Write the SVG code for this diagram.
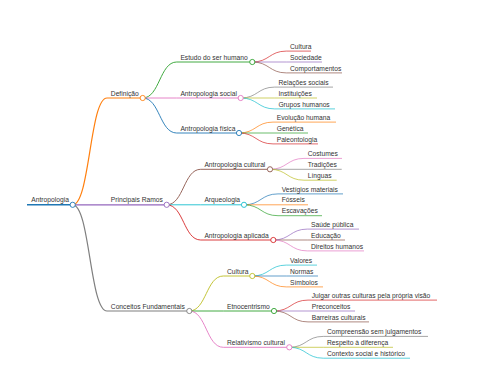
<svg xmlns="http://www.w3.org/2000/svg" width="480" height="384" viewBox="0 0 480 384">
<style>
text{font-family:"Liberation Sans",Arial,sans-serif;font-size:6.7px;fill:#333}
.l{fill:none}
.k0{stroke:#1f77b4}.k1{stroke:#ff7f0e}.k2{stroke:#2ca02c}.k3{stroke:#d62728}.k4{stroke:#9467bd}
.k5{stroke:#8c564b}.k6{stroke:#e377c2}.k7{stroke:#7f7f7f}.k8{stroke:#bcbd22}.k9{stroke:#17becf}
.d0{stroke-width:1.6}.d1{stroke-width:1.2}.d2{stroke-width:0.9}.d3{stroke-width:0.7}
circle{fill:#fff;stroke-width:0.9}
</style>
<rect width="480" height="384" fill="#fff"/>
<g id="connectors" class="l">
<path class="k1 d1" d="M72.7 204.8C89.85 204.8 89.85 98 107 98"/>
<path class="k4 d1" d="M72.7 204.8L107 204.8"/>
<path class="k7 d1" d="M72.7 204.8C89.85 204.8 89.85 311 107 311"/>
<path class="k2 d2" d="M142.7 98C159.7 98 159.7 62 176.7 62"/>
<path class="k6 d2" d="M142.7 98L176.7 98"/>
<path class="k0 d2" d="M142.7 98C159.7 98 159.7 133 176.7 133"/>
<path class="k5 d2" d="M166.7 204.8C183.7 204.8 183.7 169.3 200.7 169.3"/>
<path class="k9 d2" d="M166.7 204.8L200.7 204.8"/>
<path class="k3 d2" d="M166.7 204.8C183.7 204.8 183.7 240 200.7 240"/>
<path class="k8 d2" d="M189.3 311C206.3 311 206.3 276 223.3 276"/>
<path class="k2 d2" d="M189.3 311L223.3 311"/>
<path class="k6 d2" d="M189.3 311C206.3 311 206.3 347.3 223.3 347.3"/>
<path class="k3 d3" d="M252.3 62C269.3 62 269.3 51.1 286.3 51.1"/>
<path class="k4 d3" d="M252.3 62L286.3 62"/>
<path class="k5 d3" d="M252.3 62C269.3 62 269.3 72.9 286.3 72.9"/>
<path class="k7 d3" d="M240.7 98C257.7 98 257.7 87.1 274.7 87.1"/>
<path class="k8 d3" d="M240.7 98L274.7 98"/>
<path class="k9 d3" d="M240.7 98C257.7 98 257.7 108.9 274.7 108.9"/>
<path class="k1 d3" d="M239 133C256 133 256 122.1 273 122.1"/>
<path class="k2 d3" d="M239 133L273 133"/>
<path class="k3 d3" d="M239 133C256 133 256 143.9 273 143.9"/>
<path class="k6 d3" d="M270 169.3C287 169.3 287 158.4 304 158.4"/>
<path class="k7 d3" d="M270 169.3L304 169.3"/>
<path class="k8 d3" d="M270 169.3C287 169.3 287 180.2 304 180.2"/>
<path class="k0 d3" d="M244 204.8C261 204.8 261 193.9 278 193.9"/>
<path class="k1 d3" d="M244 204.8L278 204.8"/>
<path class="k2 d3" d="M244 204.8C261 204.8 261 215.7 278 215.7"/>
<path class="k4 d3" d="M273.3 240C290.3 240 290.3 229.1 307.3 229.1"/>
<path class="k5 d3" d="M273.3 240L307.3 240"/>
<path class="k6 d3" d="M273.3 240C290.3 240 290.3 250.9 307.3 250.9"/>
<path class="k9 d3" d="M252.3 276C269.3 276 269.3 265.1 286.3 265.1"/>
<path class="k0 d3" d="M252.3 276L286.3 276"/>
<path class="k1 d3" d="M252.3 276C269.3 276 269.3 286.9 286.3 286.9"/>
<path class="k3 d3" d="M274 311C291 311 291 300.1 308 300.1"/>
<path class="k4 d3" d="M274 311L308 311"/>
<path class="k5 d3" d="M274 311C291 311 291 321.9 308 321.9"/>
<path class="k7 d3" d="M289.3 347.3C306.3 347.3 306.3 336.4 323.3 336.4"/>
<path class="k8 d3" d="M289.3 347.3L323.3 347.3"/>
<path class="k9 d3" d="M289.3 347.3C306.3 347.3 306.3 358.2 323.3 358.2"/>
</g>
<g id="n-antropologia"><line class="k0 d0" x1="27" y1="204.8" x2="72.7" y2="204.8"/><circle class="k0" cx="72.7" cy="204.8" r="2.6"/><text x="31.3" y="202.3">Antropologia</text></g>
<g id="n-definicao"><line class="k1 d1" x1="107" y1="98" x2="142.7" y2="98"/><circle class="k1" cx="142.7" cy="98" r="2.6"/><text x="110.8" y="95.6">Definição</text></g>
<g id="n-principais"><line class="k4 d1" x1="107" y1="204.8" x2="166.7" y2="204.8"/><circle class="k4" cx="166.7" cy="204.8" r="2.6"/><text x="110.8" y="202.3">Principais Ramos</text></g>
<g id="n-conceitos"><line class="k7 d1" x1="107" y1="311" x2="189.3" y2="311"/><circle class="k7" cx="189.3" cy="311" r="2.6"/><text x="110.8" y="308.5">Conceitos Fundamentais</text></g>
<g id="n-estudo"><line class="k2 d2" x1="176.7" y1="62" x2="252.3" y2="62"/><circle class="k2" cx="252.3" cy="62" r="2.6"/><text x="180.4" y="59.6">Estudo do ser humano</text></g>
<g id="n-social"><line class="k6 d2" x1="176.7" y1="98" x2="240.7" y2="98"/><circle class="k6" cx="240.7" cy="98" r="2.6"/><text x="180.4" y="95.6">Antropologia social</text></g>
<g id="n-fisica"><line class="k0 d2" x1="176.7" y1="133" x2="239" y2="133"/><circle class="k0" cx="239" cy="133" r="2.6"/><text x="180.4" y="130.6">Antropologia física</text></g>
<g id="n-cultural"><line class="k5 d2" x1="200.7" y1="169.3" x2="270" y2="169.3"/><circle class="k5" cx="270" cy="169.3" r="2.6"/><text x="204.4" y="166.9">Antropologia cultural</text></g>
<g id="n-arqueologia"><line class="k9 d2" x1="200.7" y1="204.8" x2="244" y2="204.8"/><circle class="k9" cx="244" cy="204.8" r="2.6"/><text x="204.4" y="202.3">Arqueologia</text></g>
<g id="n-aplicada"><line class="k3 d2" x1="200.7" y1="240" x2="273.3" y2="240"/><circle class="k3" cx="273.3" cy="240" r="2.6"/><text x="204.4" y="237.6">Antropologia aplicada</text></g>
<g id="n-cultura2"><line class="k8 d2" x1="223.3" y1="276" x2="252.3" y2="276"/><circle class="k8" cx="252.3" cy="276" r="2.6"/><text x="227" y="273.6">Cultura</text></g>
<g id="n-etno"><line class="k2 d2" x1="223.3" y1="311" x2="274" y2="311"/><circle class="k2" cx="274" cy="311" r="2.6"/><text x="227" y="308.5">Etnocentrismo</text></g>
<g id="n-relativismo"><line class="k6 d2" x1="223.3" y1="347.3" x2="289.3" y2="347.3"/><circle class="k6" cx="289.3" cy="347.3" r="2.6"/><text x="227" y="344.9">Relativismo cultural</text></g>
<g id="n-cultura"><line class="k3 d3" x1="286.3" y1="51.1" x2="311" y2="51.1"/><text x="290" y="48.7">Cultura</text></g>
<g id="n-sociedade"><line class="k4 d3" x1="286.3" y1="62" x2="322" y2="62"/><text x="290" y="59.6">Sociedade</text></g>
<g id="n-comportamentos"><line class="k5 d3" x1="286.3" y1="72.9" x2="342" y2="72.9"/><text x="290" y="70.5">Comportamentos</text></g>
<g id="n-relacoes"><line class="k7 d3" x1="274.7" y1="87.1" x2="333" y2="87.1"/><text x="278.4" y="84.7">Relações sociais</text></g>
<g id="n-instituicoes"><line class="k8 d3" x1="274.7" y1="98" x2="317" y2="98"/><text x="278.4" y="95.6">Instituições</text></g>
<g id="n-grupos"><line class="k9 d3" x1="274.7" y1="108.9" x2="335" y2="108.9"/><text x="278.4" y="106.5">Grupos humanos</text></g>
<g id="n-evolucao"><line class="k1 d3" x1="273" y1="122.1" x2="336" y2="122.1"/><text x="276.7" y="119.7">Evolução humana</text></g>
<g id="n-genetica"><line class="k2 d3" x1="273" y1="133" x2="308" y2="133"/><text x="276.7" y="130.6">Genética</text></g>
<g id="n-paleontologia"><line class="k3 d3" x1="273" y1="143.9" x2="318" y2="143.9"/><text x="276.7" y="141.5">Paleontologia</text></g>
<g id="n-costumes"><line class="k6 d3" x1="304" y1="158.4" x2="342" y2="158.4"/><text x="307.7" y="156">Costumes</text></g>
<g id="n-tradicoes"><line class="k7 d3" x1="304" y1="169.3" x2="341.7" y2="169.3"/><text x="307.7" y="166.9">Tradições</text></g>
<g id="n-linguas"><line class="k8 d3" x1="304" y1="180.2" x2="336.7" y2="180.2"/><text x="307.7" y="177.8">Línguas</text></g>
<g id="n-vestigios"><line class="k0 d3" x1="278" y1="193.9" x2="343" y2="193.9"/><text x="281.7" y="191.5">Vestígios materiais</text></g>
<g id="n-fosseis"><line class="k1 d3" x1="278" y1="204.8" x2="308" y2="204.8"/><text x="281.7" y="202.3">Fósseis</text></g>
<g id="n-escavacoes"><line class="k2 d3" x1="278" y1="215.7" x2="322" y2="215.7"/><text x="281.7" y="213.3">Escavações</text></g>
<g id="n-saude"><line class="k4 d3" x1="307.3" y1="229.1" x2="359" y2="229.1"/><text x="311" y="226.7">Saúde pública</text></g>
<g id="n-educacao"><line class="k5 d3" x1="307.3" y1="240" x2="345" y2="240"/><text x="311" y="237.6">Educação</text></g>
<g id="n-direitos"><line class="k6 d3" x1="307.3" y1="250.9" x2="364" y2="250.9"/><text x="311" y="248.5">Direitos humanos</text></g>
<g id="n-valores"><line class="k9 d3" x1="286.3" y1="265.1" x2="317" y2="265.1"/><text x="290" y="262.7">Valores</text></g>
<g id="n-normas"><line class="k0 d3" x1="286.3" y1="276" x2="318" y2="276"/><text x="290" y="273.6">Normas</text></g>
<g id="n-simbolos"><line class="k1 d3" x1="286.3" y1="286.9" x2="323" y2="286.9"/><text x="290" y="284.5">Símbolos</text></g>
<g id="n-julgar"><line class="k3 d3" x1="308" y1="300.1" x2="437" y2="300.1"/><text x="311.7" y="297.7">Julgar outras culturas pela própria visão</text></g>
<g id="n-preconceitos"><line class="k4 d3" x1="308" y1="311" x2="355" y2="311"/><text x="311.7" y="308.5">Preconceitos</text></g>
<g id="n-barreiras"><line class="k5 d3" x1="308" y1="321.9" x2="369" y2="321.9"/><text x="311.7" y="319.5">Barreiras culturais</text></g>
<g id="n-compreensao"><line class="k7 d3" x1="323.3" y1="336.4" x2="428" y2="336.4"/><text x="327" y="334">Compreensão sem julgamentos</text></g>
<g id="n-respeito"><line class="k8 d3" x1="323.3" y1="347.3" x2="393" y2="347.3"/><text x="327" y="344.9">Respeito à diferença</text></g>
<g id="n-contexto"><line class="k9 d3" x1="323.3" y1="358.2" x2="410" y2="358.2"/><text x="327" y="355.8">Contexto social e histórico</text></g>
</svg>
